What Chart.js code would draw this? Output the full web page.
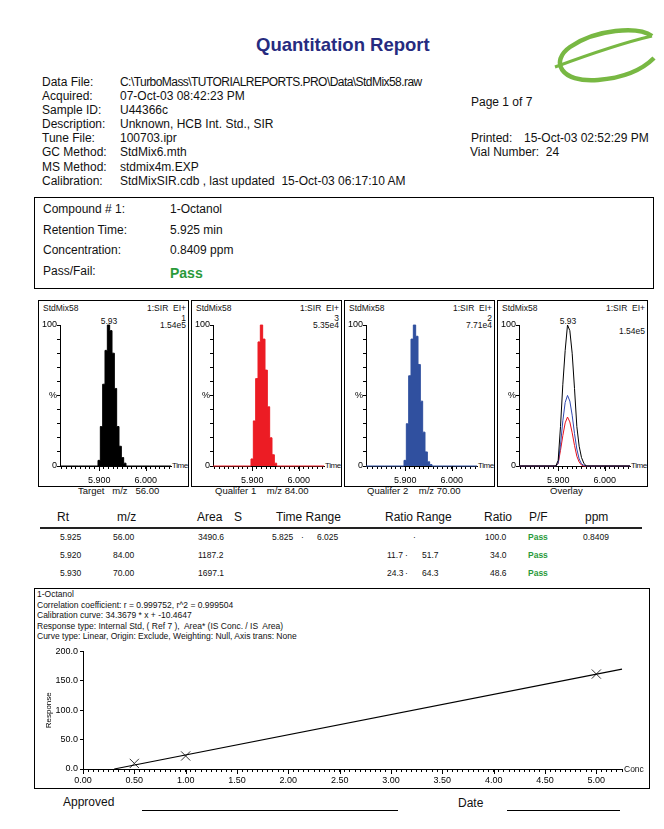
<!DOCTYPE html>
<html>
<head>
<meta charset="utf-8">
<script src="https://cdn.jsdelivr.net/npm/chart.js@4.4.1/dist/chart.umd.min.js"></script>
<style>
  body { margin: 0; background: #fff; }
  #page { position: relative; width: 664px; height: 829px; overflow: hidden; font-family: 'Liberation Sans', Arial, sans-serif; color: #111; }
  .t { position: absolute; white-space: pre; line-height: 14px; font-size: 12px; }
  .s { position: absolute; white-space: pre; line-height: 10px; font-size: 8.5px; }
  .box { position: absolute; border: 1px solid #000; box-sizing: border-box; }
  .pass { color: #2a9a3a; font-weight: bold; }
  canvas { position: absolute; }
</style>
</head>
<body>
<div id="page">
  <div class="t" style="left:256px;top:34px;font-size:18.5px;line-height:22px;font-weight:bold;color:#262b80;">Quantitation Report</div>

  <svg style="position:absolute;left:552px;top:27px;" width="106" height="56" viewBox="0 0 106 56">
    <path d="M 100 9 C 86 -1, 44 2, 18 20 C -2 34, 8 56, 46 53 C 70 51, 90 43, 102 31" fill="none" stroke="#78b843" stroke-width="4.5"/>
    <path d="M 3 40 C 30 30, 70 16, 100 9" fill="none" stroke="#78b843" stroke-width="3"/>
  </svg>

  <div class="t" style="left:42px;top:75px;">Data File:</div>
  <div class="t" style="left:42px;top:89px;">Acquired:</div>
  <div class="t" style="left:42px;top:103px;">Sample ID:</div>
  <div class="t" style="left:42px;top:117px;">Description:</div>
  <div class="t" style="left:42px;top:131px;">Tune File:</div>
  <div class="t" style="left:42px;top:145px;">GC Method:</div>
  <div class="t" style="left:42px;top:160px;">MS Method:</div>
  <div class="t" style="left:42px;top:174px;">Calibration:</div>
  <div class="t" style="left:120px;top:75px;letter-spacing:-0.55px;">C:\TurboMass\TUTORIALREPORTS.PRO\Data\StdMix58.raw</div>
  <div class="t" style="left:120px;top:89px;">07-Oct-03 08:42:23 PM</div>
  <div class="t" style="left:120px;top:103px;">U44366c</div>
  <div class="t" style="left:120px;top:117px;">Unknown, HCB Int. Std., SIR</div>
  <div class="t" style="left:120px;top:131px;">100703.ipr</div>
  <div class="t" style="left:120px;top:145px;">StdMix6.mth</div>
  <div class="t" style="left:120px;top:160px;">stdmix4m.EXP</div>
  <div class="t" style="left:120px;top:174px;">StdMixSIR.cdb , last updated  15-Oct-03 06:17:10 AM</div>

  <div class="t" style="left:471px;top:95px;">Page 1 of 7</div>
  <div class="t" style="left:471px;top:131px;">Printed:</div>
  <div class="t" style="left:524px;top:131px;">15-Oct-03 02:52:29 PM</div>
  <div class="t" style="left:470px;top:145px;">Vial Number:  24</div>

  <div class="box" style="left:34px;top:197px;width:620px;height:92px;"></div>
  <div class="t" style="left:43px;top:202px;">Compound # 1:</div>
  <div class="t" style="left:43px;top:223px;">Retention Time:</div>
  <div class="t" style="left:43px;top:243px;">Concentration:</div>
  <div class="t" style="left:43px;top:264px;">Pass/Fail:</div>
  <div class="t" style="left:170px;top:202px;">1-Octanol</div>
  <div class="t" style="left:170px;top:223px;">5.925 min</div>
  <div class="t" style="left:170px;top:243px;">0.8409 ppm</div>
  <div class="t pass" style="left:170px;top:265px;font-size:14px;line-height:16px;">Pass</div>

  <div id="panels"></div>

  <div class="t" style="left:57px;top:510px;">Rt</div>
  <div class="t" style="left:117px;top:510px;">m/z</div>
  <div class="t" style="left:197px;top:510px;">Area</div>
  <div class="t" style="left:234px;top:510px;">S</div>
  <div class="t" style="left:276px;top:510px;">Time Range</div>
  <div class="t" style="left:385px;top:510px;">Ratio Range</div>
  <div class="t" style="left:484px;top:510px;">Ratio</div>
  <div class="t" style="left:529px;top:510px;">P/F</div>
  <div class="t" style="left:585px;top:510px;">ppm</div>
  <div style="position:absolute;left:40px;top:527px;width:602px;height:2px;background:#222;"></div>

  <div class="s" style="left:60px;top:532px;">5.925</div>
  <div class="s" style="left:113px;top:532px;">56.00</div>
  <div class="s" style="left:198px;top:532px;">3490.6</div>
  <div class="s" style="left:272px;top:532px;">5.825</div>
  <div class="s" style="left:301px;top:532px;">·</div>
  <div class="s" style="left:317px;top:532px;">6.025</div>
  <div class="s" style="left:413px;top:532px;">·</div>
  <div class="s" style="left:485px;top:532px;">100.0</div>
  <div class="s pass" style="left:528px;top:532px;">Pass</div>
  <div class="s" style="left:583px;top:532px;">0.8409</div>

  <div class="s" style="left:60px;top:550px;">5.920</div>
  <div class="s" style="left:113px;top:550px;">84.00</div>
  <div class="s" style="left:198px;top:550px;">1187.2</div>
  <div class="s" style="left:387px;top:550px;">11.7</div>
  <div class="s" style="left:405px;top:550px;">·</div>
  <div class="s" style="left:422px;top:550px;">51.7</div>
  <div class="s" style="left:490px;top:550px;">34.0</div>
  <div class="s pass" style="left:528px;top:550px;">Pass</div>

  <div class="s" style="left:60px;top:568px;">5.930</div>
  <div class="s" style="left:113px;top:568px;">70.00</div>
  <div class="s" style="left:198px;top:568px;">1697.1</div>
  <div class="s" style="left:387px;top:568px;">24.3</div>
  <div class="s" style="left:405px;top:568px;">·</div>
  <div class="s" style="left:422px;top:568px;">64.3</div>
  <div class="s" style="left:490px;top:568px;">48.6</div>
  <div class="s pass" style="left:528px;top:568px;">Pass</div>

  <div class="box" style="left:34px;top:588px;width:616px;height:201px;"></div>
  <div class="s" style="left:37px;top:589px;">1-Octanol</div>
  <div class="s" style="left:37px;top:600px;">Correlation coefficient: r = 0.999752, r^2 = 0.999504</div>
  <div class="s" style="left:37px;top:610px;">Calibration curve: 34.3679 * x + -10.4647</div>
  <div class="s" style="left:37px;top:621px;">Response type: Internal Std, ( Ref 7 ),  Area* (IS Conc. / IS  Area)</div>
  <div class="s" style="left:37px;top:631px;">Curve type: Linear, Origin: Exclude, Weighting: Null, Axis trans: None</div>
  <canvas id="cal" width="612" height="144" style="left:36px;top:644px;"></canvas>
  <div class="s" style="left:624px;top:764px;">Conc</div>

  <div class="t" style="left:63px;top:795px;">Approved</div>
  <div style="position:absolute;left:142px;top:810px;width:256px;height:1px;background:#000;"></div>
  <div class="t" style="left:458px;top:796px;">Date</div>
  <div style="position:absolute;left:507px;top:810px;width:113px;height:1px;background:#000;"></div>
</div>

<script>
// Chromatogram data (% of each trace's own max), times in min
const rtTimes  = [5.816, 5.895, 5.900, 5.905, 5.910, 5.915, 5.920, 5.925, 5.930, 5.935, 5.940, 5.945, 5.950, 5.955, 5.960, 6.054];
const target56 = [0, 0, 4, 28, 58, 82, 100, 96, 80, 55, 28, 14, 6, 2, 0, 0];
const qual84   = [0, 0, 5, 32, 62, 88, 100, 90, 68, 42, 20, 8, 2, 0, 0, 0];
const qual70   = [0, 0, 4, 30, 64, 90, 100, 92, 72, 46, 24, 10, 3, 1, 0, 0];
const peakMax  = [1.54e5, 5.35e4, 7.71e4];
const chromXLabels = [5.9, 6.0];
const chromYLabels = [0, 50, 100];

// Calibration
const calConc = [0.5, 1.0, 5.0];
const calResp = [9.5, 22.2, 161.6];
const calSlope = 34.3679;
const calIntercept = -10.4647;
const calXLabels = [0, 0.5, 1, 1.5, 2, 2.5, 3, 3.5, 4, 4.5, 5];
const calYLabels = [0, 50, 100, 150, 200];

const FONT = "'Liberation Sans', Arial, sans-serif";
const pts = (xs, ys) => xs.map((x, i) => ({ x: x, y: ys[i] }));
const near = (arr, v) => arr.find(a => Math.abs(a - v) < 1e-6);

// longer tick marks for labelled values
const majorTicks = {
  id: 'majorTicks',
  afterDraw(chart) {
    const ctx = chart.ctx, xs = chart.scales.x, ys = chart.scales.y;
    ctx.save();
    ctx.strokeStyle = '#000';
    ctx.lineWidth = 1;
    xs.ticks.forEach(t => {
      if (t.label === '') return;
      const px = Math.round(xs.getPixelForValue(t.value)) + 0.5;
      ctx.beginPath(); ctx.moveTo(px, ys.bottom); ctx.lineTo(px, ys.bottom + 5); ctx.stroke();
    });
    ctx.restore();
  }
};

function chromOptions() {
  return {
    responsive: false,
    animation: false,
    devicePixelRatio: 1,
    layout: { padding: { top: 24, right: 17, left: 0, bottom: 0 } },
    plugins: { legend: { display: false }, tooltip: { enabled: false } },
    scales: {
      x: {
        type: 'linear', min: 5.816, max: 6.054,
        afterFit: s => { s.height = 20; },
        border: { color: '#000', width: 1 },
        grid: { drawOnChartArea: false, color: '#000', tickLength: 3 },
        ticks: {
          stepSize: 0.01, autoSkip: false, maxRotation: 0, includeBounds: false, padding: 6,
          color: '#000', font: { family: FONT, size: 9 },
          callback: v => { const m = near(chromXLabels, v); return m === undefined ? '' : m.toFixed(3); }
        }
      },
      y: {
        min: 0, max: 100,
        afterFit: s => { s.width = 21; },
        border: { color: '#000', width: 1 },
        grid: { drawOnChartArea: false, color: '#000', tickLength: 3 },
        ticks: {
          stepSize: 10, padding: 0, color: '#000', font: { family: FONT, size: 9 },
          callback: v => { const m = near(chromYLabels, v); return m === undefined ? '' : (m === 50 ? '%' : String(m)); }
        }
      }
    }
  };
}

function filled(data, color) {
  return { data: data, fill: 'origin', backgroundColor: color, borderColor: color, borderWidth: 1,
           stepped: 'middle', pointRadius: 0, clip: 3 };
}
function outline(data, color) {
  return { data: data, fill: false, borderColor: color, borderWidth: 1, pointRadius: 0, clip: 3 };
}

const panels = [
  { left: 38,  fn: '1', scale: '1.54e5', peak: '5.93', caption: 'Target   m/z   56.00', capLeft: 78,
    datasets: [filled(pts(rtTimes, target56), '#000')] },
  { left: 191, fn: '3', scale: '5.35e4', peak: '', caption: 'Qualifer 1    m/z 84.00', capLeft: 215,
    datasets: [filled(pts(rtTimes, qual84), '#ec1c24')] },
  { left: 344, fn: '2', scale: '7.71e4', peak: '', caption: 'Qualifer 2    m/z 70.00', capLeft: 367,
    datasets: [filled(pts(rtTimes, qual70), '#30509f')] },
  { left: 497, fn: '', scale: '1.54e5', peak: '5.93', caption: 'Overlay', capLeft: 550,
    datasets: [
      outline(pts(rtTimes, target56), '#000'),
      outline(pts(rtTimes, qual70.map(v => v * peakMax[2] / peakMax[0])), '#2f48b0'),
      outline(pts(rtTimes, qual84.map(v => v * peakMax[1] / peakMax[0])), '#e8101a')
    ] }
];

const holder = document.getElementById('panels');
function addText(cls, left, top, text, extra) {
  const d = document.createElement('div');
  d.className = cls;
  d.textContent = text;
  d.style.left = left + 'px';
  d.style.top = top + 'px';
  if (extra) Object.assign(d.style, extra);
  holder.appendChild(d);
  return d;
}

panels.forEach((p, i) => {
  const L = p.left;
  const b = document.createElement('div');
  b.className = 'box';
  Object.assign(b.style, { left: L + 'px', top: '300px', width: '151px', height: '187px' });
  holder.appendChild(b);

  addText('s', L + 5, 303, 'StdMix58');
  addText('s', L + 78, 303, '1:SIR  EI+', { width: '70px', textAlign: 'right' });
  if (p.fn) addText('s', L + 108, 313, p.fn, { width: '40px', textAlign: 'right' });
  addText('s', L + 98, p.fn ? 320 : 326, p.scale, { width: '50px', textAlign: 'right' });
  if (p.peak) addText('s', L + 51, 316, p.peak, { width: '40px', textAlign: 'center' });
  addText('s', L + 134, 461, 'Time', { fontSize: '8px', letterSpacing: '-0.4px' });
  addText('s', p.capLeft, 486, p.caption, { fontSize: '9.5px' });

  const c = document.createElement('canvas');
  c.width = 149; c.height = 185;
  c.style.left = (L + 1) + 'px';
  c.style.top = '301px';
  holder.appendChild(c);
  new Chart(c.getContext('2d'), {
    type: 'line',
    data: { datasets: p.datasets },
    options: chromOptions(),
    plugins: [majorTicks]
  });
});

// Calibration curve
const x0 = -calIntercept / calSlope;
const xEnd = 5.25;
new Chart(document.getElementById('cal').getContext('2d'), {
  type: 'scatter',
  data: {
    datasets: [
      { data: [{ x: x0, y: 0 }, { x: xEnd, y: calSlope * xEnd + calIntercept }],
        showLine: true, borderColor: '#000', borderWidth: 1.2, pointRadius: 0, clip: 3 },
      { data: pts(calConc, calResp), pointStyle: 'crossRot', pointRadius: 6.5,
        borderColor: '#333', borderWidth: 1, backgroundColor: 'transparent' }
    ]
  },
  options: {
    responsive: false,
    animation: false,
    devicePixelRatio: 1,
    layout: { padding: { top: 6, right: 26, left: 4, bottom: 0 } },
    plugins: { legend: { display: false }, tooltip: { enabled: false } },
    scales: {
      x: {
        type: 'linear', min: 0, max: xEnd,
        afterFit: s => { s.height = 19; },
        border: { color: '#000', width: 1 },
        grid: { drawOnChartArea: false, color: '#000', tickLength: 3 },
        ticks: {
          stepSize: 0.05, autoSkip: false, maxRotation: 0, includeBounds: false, padding: 3,
          color: '#000', font: { family: FONT, size: 9 },
          callback: v => { const m = near(calXLabels, v); return m === undefined ? '' : m.toFixed(2); }
        }
      },
      y: {
        min: 0, max: 200,
        afterFit: s => { s.width = 43; },
        border: { color: '#000', width: 1 },
        grid: { drawOnChartArea: false, color: '#000', tickLength: 3 },
        title: { display: true, text: 'Response', color: '#000', font: { family: FONT, size: 8 }, padding: { top: 4, bottom: 0 } },
        ticks: {
          stepSize: 50, padding: 2, color: '#000', font: { family: FONT, size: 9 },
          callback: v => { const m = near(calYLabels, v); return m === undefined ? '' : m.toFixed(1); }
        }
      }
    }
  },
  plugins: [majorTicks]
});
</script>
</body>
</html>
